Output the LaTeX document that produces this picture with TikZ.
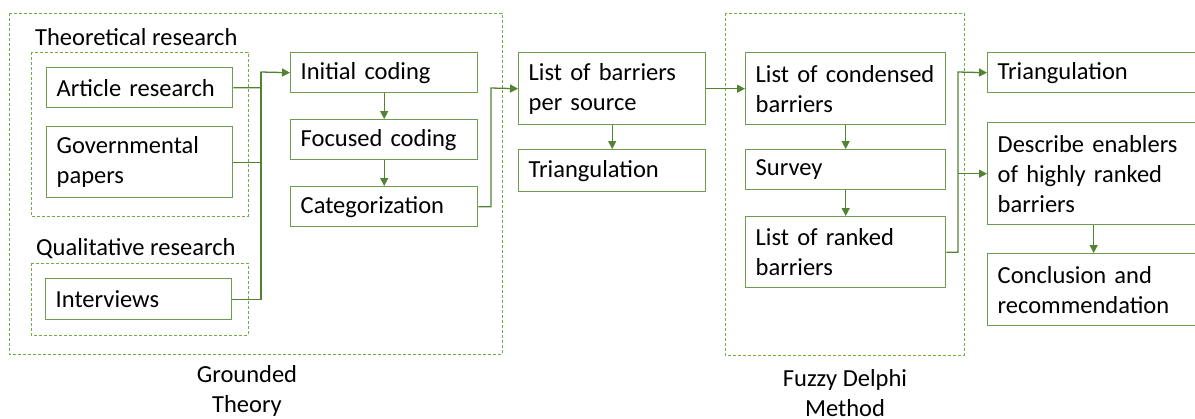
\documentclass[tikz,border=0pt]{standalone}
\usepackage{fontspec}
\setmainfont{Carlito}
\usetikzlibrary{arrows.meta}
\definecolor{boxgreen}{HTML}{6E9B50}
\definecolor{arrgreen}{HTML}{548235}
\definecolor{dashgreen}{HTML}{70AD47}
\tikzset{
  blk/.style={draw=boxgreen, line width=1.4pt, anchor=north west, align=left,
    inner xsep=10pt, inner ysep=2pt, font=\fontsize{24.5}{30}\selectfont},
  grp/.style={draw=dashgreen, line width=1pt, dash pattern=on 3pt off 2pt},
  lbl/.style={inner sep=0pt, font=\fontsize{24.5}{30}\selectfont},
  con/.style={draw=arrgreen, line width=1.3pt},
  arr/.style={con, -{Triangle[length=8pt,width=8pt]}},
}
\begin{document}
\begin{tikzpicture}[x=1pt,y=-1pt]
  \useasboundingbox (0,0) rectangle (1195,418);

  % groups
  \draw[grp] (9,13) rectangle (502,354);
  \draw[grp] (31,52) rectangle (248,216);
  \draw[grp] (31,263) rectangle (248,335);
  \draw[grp] (725,13) rectangle (964,355);

  \node[lbl, anchor=base west] (theo) at (35,45) {Theoretical research};
  \node[lbl, anchor=base west] (qual) at (36,255) {Qualitative research};
  \node[lbl, align=center, anchor=base] (gt) at (247,412) {Grounded\\Theory};
  \node[lbl, align=center, anchor=base] (fdm) at (845,416) {Fuzzy Delphi\\Method};

  % grounded theory
  \node[blk, text width=166pt, minimum height=40pt] (art) at (46,67) {Article research};
  \node[blk, text width=166pt, minimum height=71pt] (gov) at (46,126) {Governmental\\papers};
  \node[blk, text width=166pt, minimum height=41pt] (int) at (45,278) {Interviews};
  \node[blk, text width=167pt, minimum height=40pt] (ini) at (290,52) {Initial coding};
  \node[blk, text width=167pt, minimum height=40pt] (foc) at (290,119) {Focused coding};
  \node[blk, text width=167pt, minimum height=40pt] (cat) at (290,186) {Categorization};

  \node[blk, text width=167pt, minimum height=72pt] (lst) at (518,52) {List of barriers\\per source};
  \node[blk, text width=167pt, minimum height=42pt] (tri) at (518,149) {Triangulation};

  % fuzzy delphi
  \node[blk, text width=180pt, minimum height=72pt] (cond) at (745,52) {List of condensed\\barriers};
  \node[blk, text width=180pt, minimum height=40pt] (sur) at (745,149) {Survey};
  \node[blk, text width=180pt, minimum height=71pt] (rnk) at (745,216) {List of ranked\\barriers};

  \node[blk, text width=192pt, minimum height=40pt] (tri2) at (987,52) {Triangulation};
  \node[blk, text width=192pt, minimum height=102pt] (desc) at (987,122) {Describe enablers\\of highly ranked\\barriers};
  \node[blk, text width=192pt, minimum height=72pt] (conc) at (987,253) {Conclusion and\\recommendation};

  % connectors
  \coordinate (j1) at (261,72);
  \draw[arr] (art.east) -| (j1) -- (ini.west);
  \draw[con] (gov.east) -| (j1);
  \draw[con] (int.east) -| (j1);
  \draw[arr] (ini) -- (foc);
  \draw[arr] (foc) -- (cat);

  \coordinate (j2) at (491,88);
  \draw[arr] (cat.east) -| (j2) -- (lst.west);
  \draw[arr] (lst) -- (tri);
  \draw[arr] (lst) -- (cond);
  \draw[arr] (cond) -- (sur);
  \draw[arr] (sur) -- (rnk);

  \coordinate (j3) at (958,72);
  \draw[arr] (rnk.east) -| (j3) -- (tri2.west);
  \draw[arr] (j3 |- desc.west) -- (desc.west);
  \draw[arr] (desc) -- (conc);
\end{tikzpicture}
\end{document}
